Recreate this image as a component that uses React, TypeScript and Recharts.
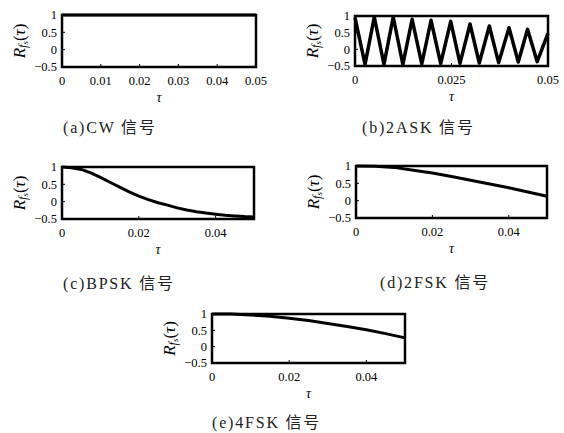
import { LineChart, Line, XAxis, YAxis, ReferenceArea } from "recharts"

// (a) CW
const cwTau = [0, 0.01, 0.02, 0.03, 0.04, 0.05]
const cwR = [1, 1, 1, 1, 1, 1]

// (b) 2ASK - triangle wave vertices
const askTau = [
  0, 0.0026, 0.005, 0.0075, 0.0099, 0.0124, 0.0148, 0.0173, 0.0197, 0.0222, 0.0248,
  0.0272, 0.0298, 0.0322, 0.0348, 0.0372, 0.0399, 0.0423, 0.0447, 0.0472, 0.05,
]
const askR = [
  0.95, -0.45, 0.97, -0.45, 0.97, -0.45, 0.9, -0.44, 0.87, -0.43, 0.84,
  -0.42, 0.76, -0.41, 0.7, -0.4, 0.65, -0.38, 0.6, -0.37, 0.48,
]

// (c) BPSK
const bpskTau = [
  0, 0.0025, 0.005, 0.0075, 0.01, 0.0125, 0.015, 0.0175, 0.02, 0.0225, 0.025,
  0.0275, 0.03, 0.0325, 0.035, 0.0375, 0.04, 0.0425, 0.045, 0.0475, 0.05,
]
const bpskR = [
  1.0, 0.98, 0.93, 0.83, 0.7, 0.56, 0.42, 0.28, 0.16, 0.06, -0.03,
  -0.1, -0.18, -0.24, -0.29, -0.33, -0.36, -0.39, -0.41, -0.43, -0.44,
]

// (d) 2FSK
const fsk2Tau = [0, 0.005, 0.01, 0.015, 0.02, 0.025, 0.03, 0.035, 0.04, 0.045, 0.05]
const fsk2R = [1.0, 0.99, 0.96, 0.88, 0.8, 0.7, 0.59, 0.48, 0.37, 0.25, 0.13]

// (e) 4FSK
const fsk4Tau = [0, 0.005, 0.01, 0.015, 0.02, 0.025, 0.03, 0.035, 0.04, 0.045, 0.05]
const fsk4R = [1.0, 1.0, 0.97, 0.93, 0.87, 0.8, 0.71, 0.62, 0.52, 0.4, 0.27]

const yTicks = [-0.5, 0, 0.5, 1]
const ticksA = [0, 0.01, 0.02, 0.03, 0.04, 0.05]
const ticksB = [0, 0.025, 0.05]
const ticksC = [0, 0.02, 0.04]

const serif = '"Liberation Serif", "Times New Roman", serif'
const capFont = '"Liberation Serif", "Noto Sans CJK SC", serif'

const toRows = (tau: number[], r: number[]) => tau.map((t, i) => ({ t, r: r[i] }))

const fmtY = (v: number) => (v < 0 ? "\u2212" + Math.abs(v) : String(v))

function YLabel(props: any) {
  const vb = props.viewBox || { x: 0, y: 0, width: 0, height: 0 }
  const cx = vb.x + vb.width - 43
  const cy = vb.y + vb.height / 2
  return (
    <text
      x={cx}
      y={cy}
      transform={`rotate(-90 ${cx} ${cy})`}
      textAnchor="middle"
      dominantBaseline="central"
      fontFamily={serif}
      fontSize={17}
      fill="#000"
    >
      <tspan fontStyle="italic">R</tspan>
      <tspan fontStyle="italic" fontSize={12} dy={4}>f</tspan>
      <tspan fontStyle="italic" fontSize={9} dy={2}>s</tspan>
      <tspan dy={-6}>(</tspan>
      <tspan fontStyle="italic">τ</tspan>
      <tspan>)</tspan>
    </text>
  )
}

function XLabel(props: any) {
  const vb = props.viewBox || { x: 0, y: 0, width: 0, height: 0 }
  return (
    <text
      x={vb.x + vb.width / 2}
      y={vb.y + 30}
      textAnchor="middle"
      dominantBaseline="central"
      fontFamily={serif}
      fontStyle="italic"
      fontSize={14}
      fill="#000"
    >
      τ
    </text>
  )
}

type PanelProps = {
  left: number
  top: number
  w: number
  h: number
  tau: number[]
  r: number[]
  xTicks: number[]
  lineWidth: number
}

function Panel({ left, top, w, h, tau, r, xTicks, lineWidth }: PanelProps) {
  const data = toRows(tau, r)
  const tickStyle = { fontFamily: serif, fontSize: 12.5, fill: "#000" }
  return (
    <div style={{ position: "absolute", left: left - 62, top: top - 10 }}>
      <LineChart
        width={w + 62 + 14}
        height={h + 10 + 40}
        data={data}
        margin={{ top: 10, right: 14, bottom: 0, left: 0 }}
      >
        <XAxis
          dataKey="t"
          type="number"
          domain={[0, 0.05]}
          ticks={xTicks}
          interval={0}
          height={40}
          axisLine={false}
          tickSize={-3}
          tickMargin={12}
          stroke="#000"
          tick={tickStyle}
          label={<XLabel />}
        />
        <XAxis
          xAxisId="top"
          dataKey="t"
          type="number"
          domain={[0, 0.05]}
          ticks={xTicks}
          interval={0}
          orientation="top"
          mirror
          height={0}
          axisLine={false}
          tick={false}
          tickSize={3}
          stroke="#000"
        />
        <YAxis
          type="number"
          domain={[-0.5, 1]}
          ticks={yTicks}
          interval={0}
          width={62}
          axisLine={false}
          tickSize={-3}
          tickMargin={8}
          stroke="#000"
          tick={tickStyle}
          tickFormatter={fmtY}
          label={<YLabel />}
        />
        <YAxis
          yAxisId="right"
          type="number"
          domain={[-0.5, 1]}
          ticks={yTicks}
          interval={0}
          orientation="right"
          mirror
          width={0}
          axisLine={false}
          tick={false}
          tickSize={3}
          stroke="#000"
        />
        <ReferenceArea x1={0} x2={0.05} y1={-0.5} y2={1} fill="none" stroke="#000" strokeWidth={2.5} />
        <Line
          dataKey="r"
          type="linear"
          stroke="#000"
          strokeWidth={lineWidth}
          strokeLinejoin="round"
          dot={false}
          isAnimationActive={false}
        />
      </LineChart>
    </div>
  )
}

function Caption({ left, top, label, name }: { left: number; top: number; label: string; name: string }) {
  return (
    <div
      style={{
        position: "absolute",
        left,
        top,
        fontFamily: capFont,
        fontSize: 16,
        lineHeight: "18px",
        letterSpacing: 1.8,
        color: "#222",
        whiteSpace: "nowrap",
      }}
    >
      ({label}){name} 信号
    </div>
  )
}

export default function App() {
  return (
    <div style={{ position: "absolute", left: 0, top: 0, width: 564, height: 433, background: "#fff" }}>
      <Panel left={62} top={15} w={194} h={52} tau={cwTau} r={cwR} xTicks={ticksA} lineWidth={3} />
      <Panel left={355} top={16} w={193} h={50} tau={askTau} r={askR} xTicks={ticksB} lineWidth={3.5} />
      <Panel left={62} top={167} w={192} h={52} tau={bpskTau} r={bpskR} xTicks={ticksC} lineWidth={3} />
      <Panel left={356} top={166} w={191} h={52} tau={fsk2Tau} r={fsk2R} xTicks={ticksC} lineWidth={3} />
      <Panel left={212} top={314} w={193} h={49} tau={fsk4Tau} r={fsk4R} xTicks={ticksC} lineWidth={3} />
      <Caption left={63} top={119} label="a" name="CW" />
      <Caption left={362} top={119} label="b" name="2ASK" />
      <Caption left={63} top={275} label="c" name="BPSK" />
      <Caption left={380} top={274} label="d" name="2FSK" />
      <Caption left={212} top={414} label="e" name="4FSK" />
    </div>
  )
}
